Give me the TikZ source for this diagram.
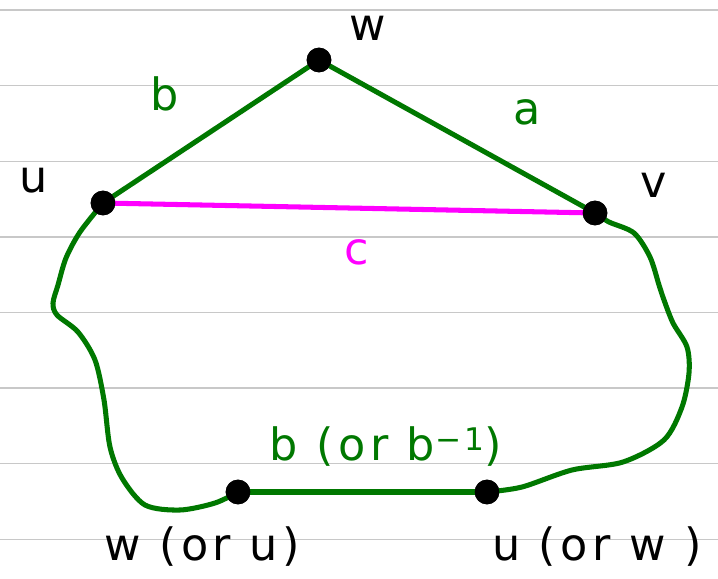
\documentclass[tikz,border=0pt]{standalone}
\usepackage{fontspec}
\setmainfont[LetterSpace=10]{DejaVu Sans}
\usetikzlibrary{positioning, calc}

\definecolor{pathgreen}{RGB}{0,120,0}
\definecolor{chordpink}{RGB}{255,0,255}
\definecolor{rulegray}{RGB}{200,200,200}

\begin{document}
\begin{tikzpicture}[
    x=0.03cm, y=-0.03cm,           % 1 unit = 1 px of the sheet, y downwards
    font=\fontsize{38}{44}\selectfont,
    dot/.style={circle, fill=black, inner sep=0pt, minimum size=0.74cm},
    greenline/.style={pathgreen, line width=4.3pt, line cap=round, line join=round},
    pinkline/.style={chordpink, line width=4.3pt, line cap=round},
    ruleline/.style={rulegray, line width=1.2pt}
]

    % --- sheet and ruling ---
    \fill[white] (0,0) rectangle (718,578);
    \useasboundingbox (0,0) rectangle (718,578);
    \foreach \y in {10, 85.6, 161.2, 236.8, 312.4, 388, 463.6, 539.2}
        \draw[ruleline] (0,\y) -- (718,\y);

    % --- vertices ---
    \node[dot] (w) at (319,60) {};
    \node[dot] (u) at (103,203) {};
    \node[dot] (v) at (595,213) {};
    \node[dot] (wlow) at (238,492) {};
    \node[dot] (ulow) at (487,492) {};

    % --- triangle and closed path ---
    \draw[pinkline] (u.center) -- (v.center);
    \draw[greenline] (u) -- (w);
    \draw[greenline] (w) -- (v);
    \draw[greenline] (wlow) -- (ulow);
    \draw[greenline, smooth, tension=0.5] plot coordinates {
        (u.center) (80,232) (66,258) (58,285) (53,303) (57,315) (78,332)
        (95,360) (104,400) (110,447) (122,478) (145,505) (180,510)
        (215,503) (wlow.center)
    };
    \draw[greenline, smooth, tension=0.5] plot coordinates {
        (v.center) (609,222) (634,233) (650,257) (659,285) (664,300)
        (673,323) (687,347) (689,373) (682,407) (664,440) (623,462)
        (572,470) (522,487) (ulow.center)
    };
    \node[dot] at (u) {};
    \node[dot] at (v) {};
    \node[dot] at (w) {};
    \node[dot] at (wlow) {};
    \node[dot] at (ulow) {};

    % --- labels ---
    \node (wlab) at (368,28) {w};
    \node (ulab) at (34,180) {u};
    \node (vlab) at (654,185) {v};
    \node[pathgreen] (blab) at (165,94) {b};
    \node[pathgreen] (alab) at (527,112) {a};
    \node[chordpink] (clab) at (357,252) {c};
    \node[pathgreen] (binv) at (386,447) {b (or b\textsuperscript{−1})};
    \node (wlowlab) at (202,547) {w (or u)};
    \node (ulowlab) at (597,547) {u (or w )};

\end{tikzpicture}
\end{document}
